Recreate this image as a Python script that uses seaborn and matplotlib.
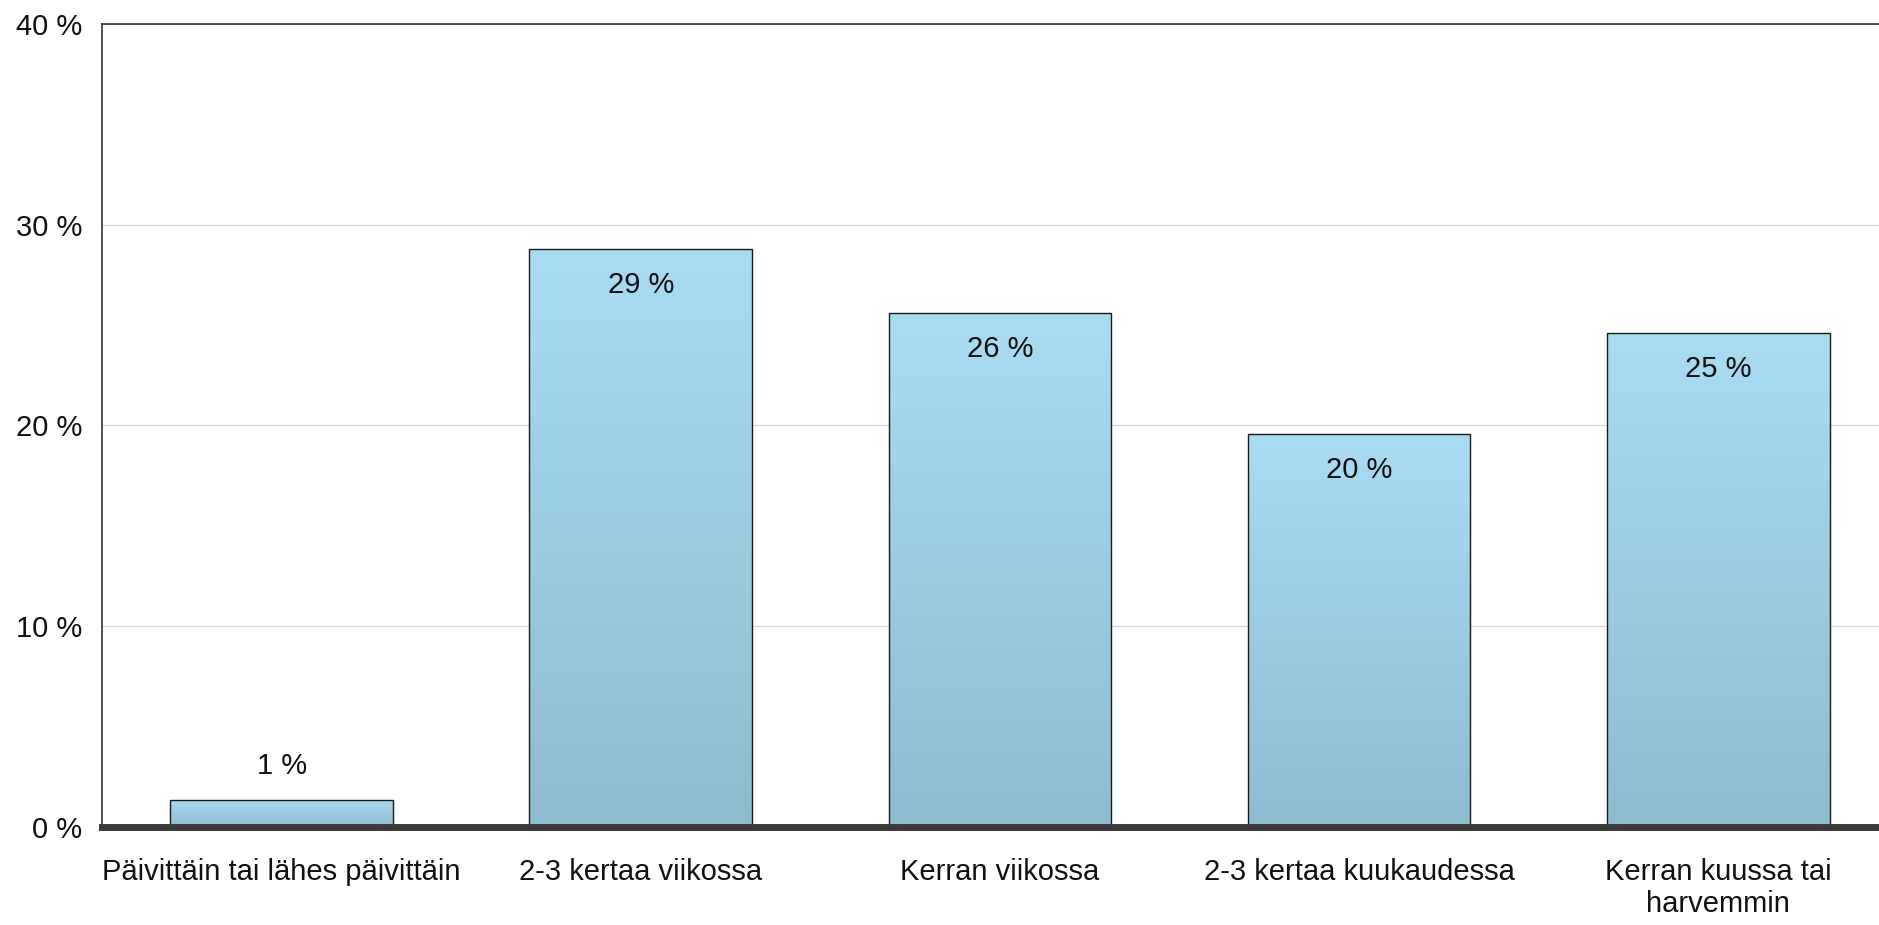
import numpy as np
import pandas as pd
import seaborn as sns
import matplotlib.pyplot as plt
from matplotlib.colors import LinearSegmentedColormap

# Data
categories = ['Päivittäin tai lähes päivittäin', '2-3 kertaa viikossa', 'Kerran viikossa',
              '2-3 kertaa kuukaudessa', 'Kerran kuussa tai\nharvemmin']
values = [1.35, 28.8, 25.6, 19.6, 24.6]
labels = ['1 %', '29 %', '26 %', '20 %', '25 %']
yticks = [0, 10, 20, 30, 40]

df = pd.DataFrame({'cat': categories, 'val': values})

sns.set_style('white')
plt.rcParams['font.family'] = ['Liberation Sans', 'DejaVu Sans']

fig = plt.figure(figsize=(18.79, 9.25), dpi=100)
ax = fig.add_axes([102 / 1879, 1 - 827 / 925, 1 - 102 / 1879 + 0.01, (827 - 24) / 925])

ax = sns.barplot(data=df, x='cat', y='val', color='#a8dcf2', width=0.62,
                 edgecolor='#1a1a1a', linewidth=1.0, ax=ax, zorder=3)

# gradient fill on each bar
cmap = LinearSegmentedColormap.from_list('bar', ['#8fbbd1', '#a9dcf3'])
grad = np.linspace(0, 1, 256).reshape(-1, 1)
for p in ax.patches:
    x0, y0 = p.get_x(), p.get_y()
    w, h = p.get_width(), p.get_height()
    im = ax.imshow(grad, cmap=cmap, aspect='auto', origin='lower',
                   extent=[x0, x0 + w, y0, y0 + h], zorder=3.5)
    im.set_clip_path(p)
    p.set_facecolor('none')
    p.set_zorder(4)

# value labels
for i, (v, lab) in enumerate(zip(values, labels)):
    if v < 5:
        ax.text(i, v + 1.0, lab, ha='center', va='bottom', fontsize=21, color='#111111', zorder=5)
    else:
        ax.text(i, v - 1.1, lab, ha='center', va='top', fontsize=21, color='#111111', zorder=5)

ax.set_xlim(-0.5, 4.5)
ax.set_ylim(0, 40)
ax.set_yticks(yticks)
ax.set_yticklabels([f'{t} %' for t in yticks], fontsize=21, color='#111111')
ax.tick_params(axis='x', labelsize=21, labelcolor='#111111', pad=22, length=0)
ax.tick_params(axis='y', pad=14, length=0)
ax.set_xlabel('')
ax.set_ylabel('')

ax.yaxis.grid(True, color='#d9d9d9', linewidth=1.0, zorder=0)
ax.set_axisbelow(True)

for s in ['left', 'top']:
    ax.spines[s].set_color('#333333')
    ax.spines[s].set_linewidth(1.2)
ax.spines['right'].set_visible(False)
ax.spines['bottom'].set_color('#3a3a3a')
ax.spines['bottom'].set_linewidth(5)
ax.spines['bottom'].set_zorder(6)

plt.savefig('out.png', dpi=100)
